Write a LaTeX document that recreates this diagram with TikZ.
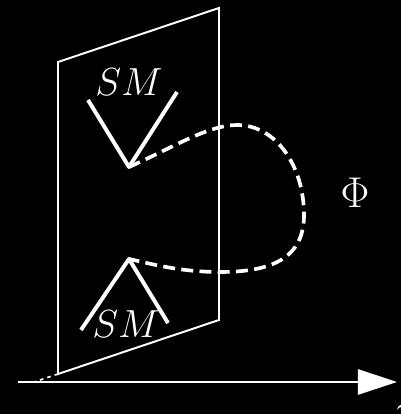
\documentclass[tikz,border=0pt]{standalone}
\usepackage{tikz}
\usetikzlibrary{arrows.meta,positioning}

\begin{document}
\begin{tikzpicture}[
    wall/.style={draw=white, line width=1.4pt},
    brane/.style={draw=white, line width=2.8pt, line join=round},
    flux/.style={draw=white, line width=2.6pt, dash pattern=on 8.5pt off 4.5pt},
    lbl/.style={text=white, font=\Huge, inner sep=0pt, scale=1.12}
]
    \useasboundingbox[fill=black] (0,0) rectangle (10.025,10.35);

    % the wall
    \coordinate (wbl) at (1.45,1.0);
    \coordinate (wtl) at (1.45,8.8);
    \coordinate (wtr) at (5.475,10.15);
    \coordinate (wbr) at (5.475,2.35);
    \draw[wall] (wbl) -- (wtl) -- (wtr) -- (wbr) -- cycle;
    \coordinate (wfoot) at (0.85,0.8);
    \draw[draw=white, line width=1.2pt, dash pattern=on 2.5pt off 3pt] (wbl) -- (wfoot);

    % axis
    \coordinate (ax0) at (0.45,0.8);
    \coordinate (ax1) at (9.925,0.8);
    \draw[draw=white, line width=2pt, -{Triangle[length=0.975cm, width=0.625cm]}] (ax0) -- (ax1);
    \node[lbl, anchor=north west] (zlbl) at (9.8,0.22) {$z$};

    % upper brane
    \coordinate (vtop) at (3.225,6.175);
    \coordinate (tl) at (2.2,7.85);
    \coordinate (tr) at (4.425,8.05);
    \draw[brane] (tl) -- (vtop) -- (tr);
    \node[lbl] (smtop) at (3.225,8.3) {$SM$};

    % lower brane
    \coordinate (vbot) at (3.225,3.875);
    \coordinate (bl) at (2.025,2.1);
    \coordinate (br) at (4.2,2.275);
    \draw[brane] (bl) -- (vbot) -- (br);
    \node[lbl] (smbot) at (3.15,2.25) {$SM$};

    % the field
    \draw[flux] (vtop) .. controls (4.3,6.65) and (5.2,7.225) .. (5.925,7.225)
        .. controls (6.9,7.225) and (7.6,6.2) .. (7.6,4.975)
        .. controls (7.6,3.9) and (6.8,3.55) .. (5.5,3.55)
        .. controls (4.5,3.55) and (3.8,3.75) .. (vbot);
    \node[lbl, scale=1.1] (phi) at (8.875,5.525) {$\Phi$};
\end{tikzpicture}
\end{document}
